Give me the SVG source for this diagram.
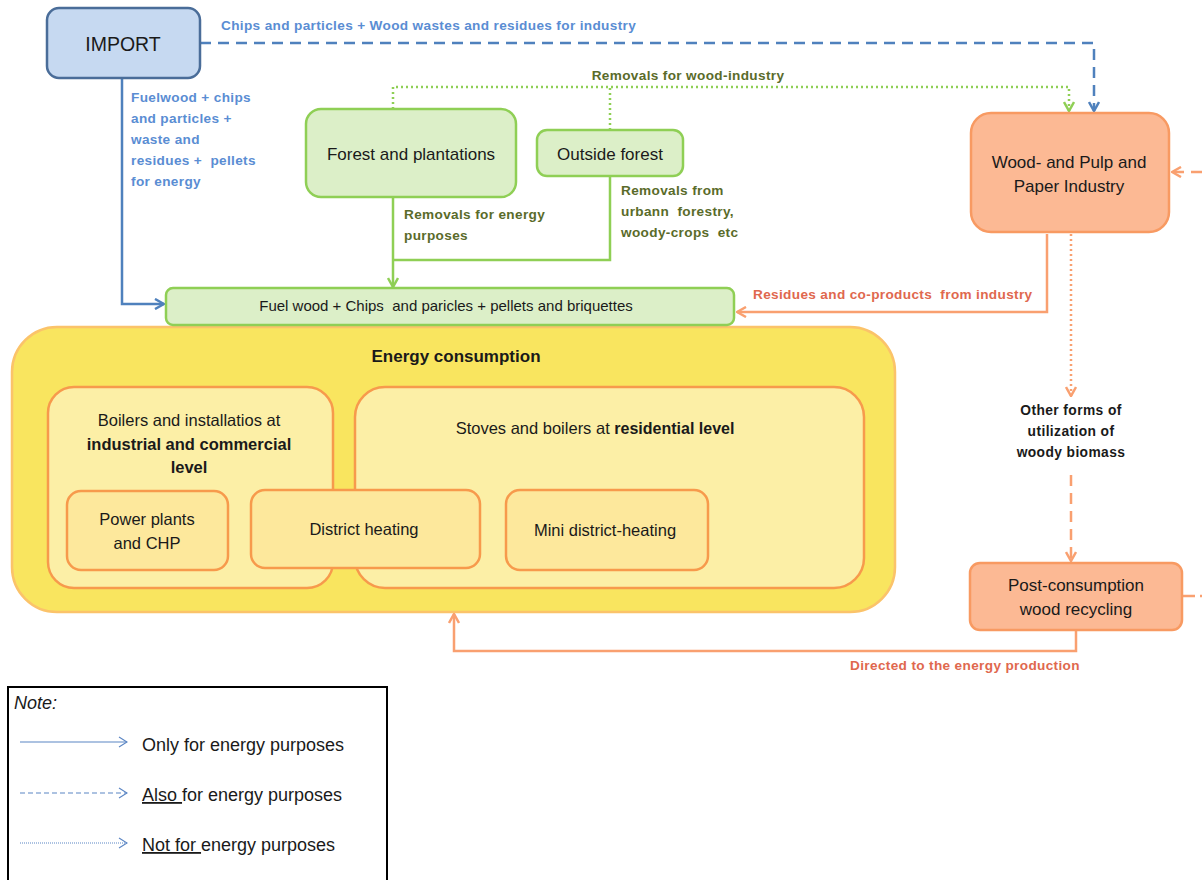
<svg xmlns="http://www.w3.org/2000/svg" width="1202" height="880" viewBox="0 0 1202 880">
<style>
text{font-family:"Liberation Sans",Arial,sans-serif;white-space:pre;}
.lbl{font-size:17px;fill:#1a1a1a;}
.in{font-size:16.5px;fill:#1a1a1a;}
.blu{font-size:13.6px;font-weight:bold;letter-spacing:0.35px;fill:#5a8dd3;}
.grn{font-size:13.6px;font-weight:bold;letter-spacing:0.35px;fill:#5a6b2a;}
.org{font-size:13.6px;font-weight:bold;letter-spacing:0.35px;fill:#e0684e;}
.blk{font-size:13.8px;font-weight:bold;letter-spacing:0.4px;fill:#1a1a1a;}
.g{fill:#dcefc8;stroke:#8fcf55;stroke-width:2.5;}
.o{fill:#fcb994;stroke:#f89a62;stroke-width:2.5;}
.inner{fill:#fcefa6;stroke:#f79a4c;stroke-width:2.5;}
.inner2{fill:#fde89c;stroke:#f79a4c;stroke-width:2.5;}
.cb{fill:none;stroke:#4f81bd;stroke-width:2.5;}
.cg{fill:none;stroke:#8fcf55;stroke-width:2.5;}
.co{fill:none;stroke:#f9a070;stroke-width:2.5;}
.leg{fill:none;stroke:#5b86c4;stroke-width:1.2;}
.lt{font-size:18px;fill:#1a1a1a;}
</style>
<defs>
<marker id="ab" viewBox="0 0 12 12" refX="11" refY="6" markerWidth="12" markerHeight="12" markerUnits="userSpaceOnUse" orient="auto"><path d="M2,1 L11,6 L2,11" fill="none" stroke="#4f81bd" stroke-width="2.5"/></marker>
<marker id="ag" viewBox="0 0 12 12" refX="11" refY="6" markerWidth="12" markerHeight="12" markerUnits="userSpaceOnUse" orient="auto"><path d="M2,1 L11,6 L2,11" fill="none" stroke="#8fcf55" stroke-width="2.5"/></marker>
<marker id="ao" viewBox="0 0 12 12" refX="11" refY="6" markerWidth="12" markerHeight="12" markerUnits="userSpaceOnUse" orient="auto"><path d="M2,1 L11,6 L2,11" fill="none" stroke="#f9a070" stroke-width="2.5"/></marker>
<marker id="al" viewBox="0 0 12 12" refX="11" refY="6" markerWidth="12" markerHeight="12" markerUnits="userSpaceOnUse" orient="auto"><path d="M3,1 L11,6 L3,11" fill="none" stroke="#5b86c4" stroke-width="1.2"/></marker>
</defs>

<rect width="1202" height="880" fill="#ffffff"/>

<g id="energy-consumption">
<rect x="12" y="327" width="883" height="285" rx="45" fill="#f9e55f" stroke="#fbc36a" stroke-width="2.5"/>
<text x="456" y="362" text-anchor="middle" font-size="17" font-weight="bold" fill="#1a1a1a">Energy consumption</text>
</g>
<g id="boilers-industrial">
<rect x="48" y="387" width="285" height="201" rx="26" class="inner"/>
<text x="189" y="426" text-anchor="middle" class="in">Boilers and installatios at</text>
<text x="189" y="450" text-anchor="middle" class="in" font-size="16" font-weight="bold">industrial and commercial</text>
<text x="189" y="473" text-anchor="middle" class="in" font-size="16" font-weight="bold">level</text>
</g>
<g id="stoves-residential">
<rect x="355" y="387" width="509" height="201" rx="30" class="inner"/>
<text x="595" y="434" text-anchor="middle" class="in">Stoves and boilers at <tspan font-weight="bold" font-size="16">residential level</tspan></text>
</g>
<g id="power-plants">
<rect x="67" y="491" width="161" height="79" rx="14" class="inner2"/>
<text x="147" y="525" text-anchor="middle" class="in">Power plants</text>
<text x="147" y="549" text-anchor="middle" class="in">and CHP</text>
</g>
<g id="district-heating">
<rect x="251" y="490" width="229" height="78" rx="14" class="inner2"/>
<text x="364" y="535" text-anchor="middle" class="in">District heating</text>
</g>
<g id="mini-district-heating">
<rect x="506" y="490" width="202" height="80" rx="14" class="inner2"/>
<text x="605" y="536" text-anchor="middle" class="in">Mini district-heating</text>
</g>

<g id="connectors">
<path d="M200,43 H1094 V111" class="cb" stroke-dasharray="11,7" marker-end="url(#ab)"/>
<path d="M122,78 V304 H164" class="cb" marker-end="url(#ab)"/>
<path d="M393,109 V87 H1069 V111" class="cg" stroke-dasharray="2,3" marker-end="url(#ag)"/>
<path d="M610,130 V87" class="cg" stroke-dasharray="2,3"/>
<path d="M393,197 V287" class="cg" marker-end="url(#ag)"/>
<path d="M610,176 V260 H393" class="cg"/>
<path d="M1047,234 V312 H737" class="co" marker-end="url(#ao)"/>
<path d="M1071,234 V396" class="co" stroke-dasharray="2,3" marker-end="url(#ao)"/>
<path d="M1071,475 V561" class="co" stroke-dasharray="11,7" marker-end="url(#ao)"/>
<path d="M1202,172 H1172" class="co" stroke-dasharray="11,7" marker-end="url(#ao)"/>
<path d="M1183,596 H1202" class="co" stroke-dasharray="12,5"/>
<path d="M1076,631 V651 H454 V614" class="co" marker-end="url(#ao)"/>
</g>

<g id="connector-labels">
<text x="221" y="30" class="blu">Chips and particles + Wood wastes and residues for industry</text>
<text x="131" y="102" class="blu">Fuelwood + chips</text>
<text x="131" y="123" class="blu">and particles +</text>
<text x="131" y="144" class="blu">waste and</text>
<text x="131" y="165" class="blu">residues +  pellets</text>
<text x="131" y="186" class="blu">for energy</text>
<text x="688" y="80" text-anchor="middle" class="grn">Removals for wood-industry</text>
<text x="404" y="219" class="grn">Removals for energy</text>
<text x="404" y="240" class="grn">purposes</text>
<text x="621" y="195" class="grn">Removals from</text>
<text x="621" y="216" class="grn">urbann  forestry,</text>
<text x="621" y="237" class="grn">woody-crops  etc</text>
<text x="753" y="299" class="org">Residues and co-products  from industry</text>
<text x="1071" y="415" text-anchor="middle" class="blk">Other forms of</text>
<text x="1071" y="436" text-anchor="middle" class="blk">utilization of</text>
<text x="1071" y="457" text-anchor="middle" class="blk">woody biomass</text>
<text x="965" y="670" text-anchor="middle" class="org">Directed to the energy production</text>
</g>

<g id="import">
<rect x="47" y="8" width="153" height="70" rx="12" fill="#c6d9f1" stroke="#4a6d99" stroke-width="2.5"/>
<text x="123" y="51" text-anchor="middle" font-size="19.5" fill="#1a1a1a">IMPORT</text>
</g>
<g id="forest-plantations">
<rect x="306" y="109" width="210" height="88" rx="15" class="g"/>
<text x="411" y="160" text-anchor="middle" class="lbl">Forest and plantations</text>
</g>
<g id="outside-forest">
<rect x="537" y="130" width="146" height="46" rx="10" class="g"/>
<text x="610" y="160" text-anchor="middle" class="lbl">Outside forest</text>
</g>
<g id="fuel-wood">
<rect x="166" y="288" width="568" height="37" rx="7" class="g"/>
<text x="446" y="311" text-anchor="middle" font-size="15" fill="#1a1a1a">Fuel wood + Chips  and paricles + pellets and briquettes</text>
</g>
<g id="wood-industry">
<rect x="971" y="113" width="198" height="119" rx="20" class="o"/>
<text x="1069" y="168" text-anchor="middle" class="lbl">Wood- and Pulp and</text>
<text x="1069" y="192" text-anchor="middle" class="lbl">Paper Industry</text>
</g>
<g id="post-consumption">
<rect x="970" y="563" width="212" height="67" rx="10" class="o"/>
<text x="1076" y="591" text-anchor="middle" class="lbl">Post-consumption</text>
<text x="1076" y="615" text-anchor="middle" class="lbl">wood recycling</text>
</g>

<g id="legend">
<rect x="8" y="687" width="379" height="200" fill="#ffffff" stroke="#000000" stroke-width="2"/>
<text x="14" y="709" font-size="18" font-style="italic" fill="#1a1a1a">Note:</text>
<path d="M20,742 H127" class="leg" marker-end="url(#al)"/>
<text x="142" y="751" class="lt">Only for energy purposes</text>
<path d="M20,793 H127" class="leg" stroke-dasharray="5,3" marker-end="url(#al)"/>
<text x="142" y="801" class="lt"><tspan text-decoration="underline">Also </tspan>for energy purposes</text>
<path d="M20,843 H127" class="leg" stroke-dasharray="1,1" marker-end="url(#al)"/>
<text x="142" y="851" class="lt"><tspan text-decoration="underline">Not for </tspan>energy purposes</text>
</g>
</svg>
